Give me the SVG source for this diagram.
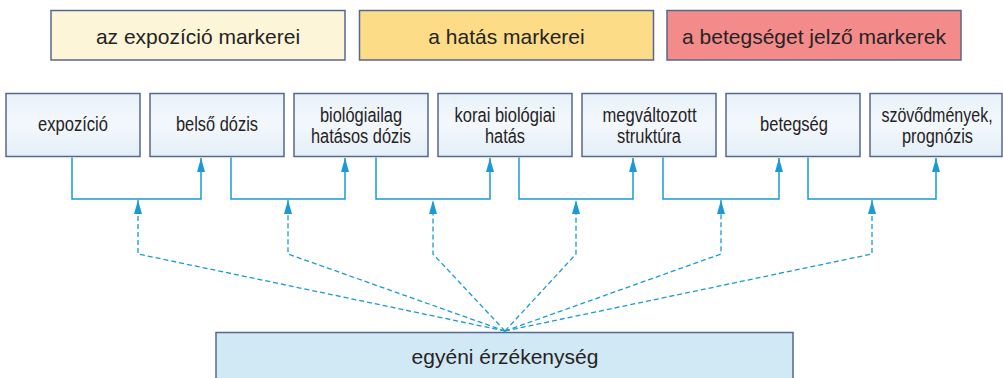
<svg xmlns="http://www.w3.org/2000/svg" width="1003" height="378" viewBox="0 0 1003 378">
<style>
.hdr{stroke:#56688f;stroke-width:1.5}
.box{fill:url(#bg);stroke:#56688f;stroke-width:1.5}
.t{font-family:"Liberation Sans",Arial,sans-serif;fill:#262324;text-anchor:middle}
.big{font-size:21px}
.mid{font-size:20px}
.solid{fill:none;stroke:#1a9ad7;stroke-width:1.5;marker-end:url(#ah)}
.dash{fill:none;stroke:#1a9ad7;stroke-width:1.3;stroke-dasharray:5 3;marker-end:url(#ah)}
</style>
<defs>
<linearGradient id="bg" x1="0" y1="0" x2="0" y2="1">
<stop offset="0" stop-color="#e9f2f9"/>
<stop offset="0.5" stop-color="#f3f8fc"/>
<stop offset="1" stop-color="#e4eef7"/>
</linearGradient>
<marker id="ah" viewBox="0 0 14 8" refX="14" refY="4" markerWidth="14" markerHeight="8" markerUnits="userSpaceOnUse" orient="auto">
<path d="M0,0 L14,4 L0,8 Z" fill="#1a9ad7"/>
</marker>
</defs>
<rect width="1003" height="378" fill="#ffffff"/>

<g id="h1"><rect class="hdr" x="51" y="10.5" width="294" height="49.5" fill="#fdf5d7"/><text class="t big" x="198" y="43.5">az expozíció markerei</text></g>
<g id="h2"><rect class="hdr" x="359.5" y="10.5" width="294" height="49.5" fill="#fcdc86"/><text class="t big" x="506.5" y="43.5">a hatás markerei</text></g>
<g id="h3"><rect class="hdr" x="667" y="10.5" width="294" height="49.5" fill="#f48b8b"/><text class="t big" x="814" y="43.5">a betegséget jelző markerek</text></g>

<g id="n1"><rect class="box" x="6" y="93.5" width="134" height="63"/><text class="t mid" x="73" y="131" textLength="70" lengthAdjust="spacingAndGlyphs">expozíció</text></g>
<g id="n2"><rect class="box" x="150" y="93.5" width="134" height="63"/><text class="t mid" x="217" y="131" textLength="82" lengthAdjust="spacingAndGlyphs">belső dózis</text></g>
<g id="n3"><rect class="box" x="294" y="93.5" width="134" height="63"/><text class="t mid" x="361" y="121.5" textLength="82" lengthAdjust="spacingAndGlyphs">biológiailag</text><text class="t mid" x="361" y="142.5" textLength="100" lengthAdjust="spacingAndGlyphs">hatásos dózis</text></g>
<g id="n4"><rect class="box" x="438" y="93.5" width="134" height="63"/><text class="t mid" x="505" y="121.5" textLength="101" lengthAdjust="spacingAndGlyphs">korai biológiai</text><text class="t mid" x="505" y="142.5" textLength="40" lengthAdjust="spacingAndGlyphs">hatás</text></g>
<g id="n5"><rect class="box" x="582" y="93.5" width="134" height="63"/><text class="t mid" x="649.5" y="121.5" textLength="94" lengthAdjust="spacingAndGlyphs">megváltozott</text><text class="t mid" x="649" y="142.5" textLength="64" lengthAdjust="spacingAndGlyphs">struktúra</text></g>
<g id="n6"><rect class="box" x="726" y="93.5" width="134" height="63"/><text class="t mid" x="794" y="131" textLength="68" lengthAdjust="spacingAndGlyphs">betegség</text></g>
<g id="n7"><rect class="box" x="870" y="93.5" width="132" height="63"/><text class="t mid" transform="translate(937,121.5) scale(0.8,1)" x="0" y="0">szövődmények,</text><text class="t mid" x="937.5" y="142.5" textLength="71" lengthAdjust="spacingAndGlyphs">prognózis</text></g>

<g id="n8"><rect x="216" y="332.5" width="577" height="60" fill="#d1e8f5" stroke="#56688f" stroke-width="1.5"/><text class="t big" x="505" y="363.5">egyéni érzékenység</text></g>

<g id="connectors">
<path class="solid" d="M72,157.5 V199 H201 V158"/>
<path class="solid" d="M231,157.5 V199 H345 V158"/>
<path class="solid" d="M376,157.5 V199 H490 V158"/>
<path class="solid" d="M519,157.5 V199 H633 V158"/>
<path class="solid" d="M663,157.5 V199 H779 V158"/>
<path class="solid" d="M808,157.5 V199 H936 V158"/>
<path class="dash" d="M505,331 L138,254 V200"/>
<path class="dash" d="M505,331 L288,254 V200"/>
<path class="dash" d="M505,331 L433,254 V200"/>
<path class="dash" d="M505,331 L576,254 V200"/>
<path class="dash" d="M505,331 L721,254 V200"/>
<path class="dash" d="M505,331 L872,254 V200"/>
</g>
</svg>
